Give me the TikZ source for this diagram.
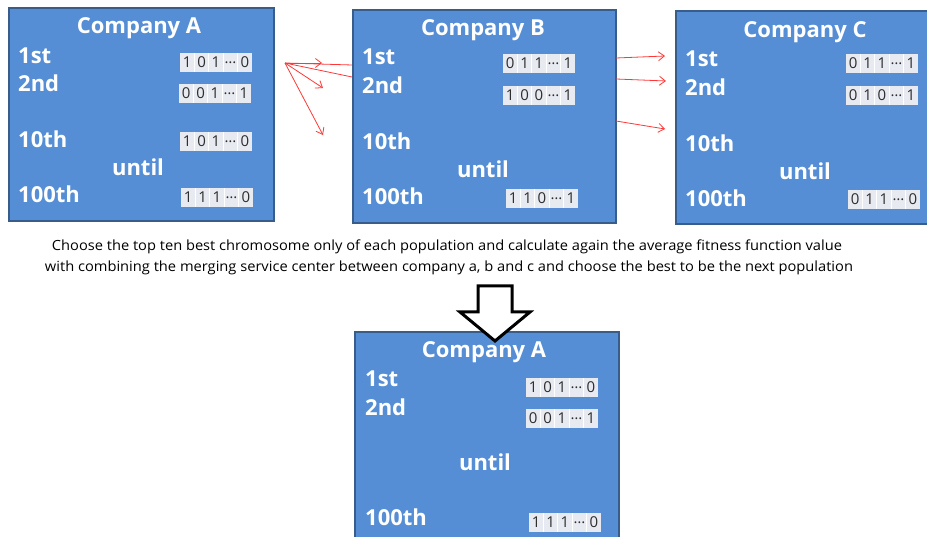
\documentclass[tikz,border=0pt]{standalone}
\usepackage{fontspec}
\setmainfont{Open Sans}
\usetikzlibrary{arrows.meta,calc}

\definecolor{boxfill}{RGB}{85,142,213}
\definecolor{boxline}{RGB}{56,93,138}
\definecolor{cellfill}{RGB}{231,234,240}
\definecolor{celltext}{RGB}{45,45,45}
\definecolor{linkred}{RGB}{255,55,55}

\tikzset{
  company/.style={draw=boxline, line width=2pt, fill=boxfill, rectangle,
    anchor=north west, inner sep=0pt},
  heading/.style={text=white, font=\bfseries\fontsize{22}{22}\selectfont, inner sep=0pt},
  rowlabel/.style={heading, anchor=west},
  chrom/.style={fill=cellfill, rectangle, anchor=north west, inner sep=0pt,
    minimum width=72pt, minimum height=19pt},
  cell/.style={text=celltext, font=\fontsize{15}{15}\selectfont, inner sep=0pt},
  link/.style={draw=linkred, line width=0.8pt},
  linkarrow/.style={link, -{Straight Barb[length=6pt,width=9pt]}},
  caption/.style={font=\fontsize{14}{14}\selectfont, inner sep=0pt, text=black},
  hollow/.style={draw=black, line width=3pt, fill=white, line join=miter},
}

% chromosome string: name, left, top, three digits and the last digit
\newcommand\chromo[7]{%
  \node[chrom] (#1) at (#2,#3) {};
  \foreach \d [count=\i] in {#4,#5,#6,…,#7}
    \node[cell] (#1-\i) at ($(#1.north west)+(7.2+14.4*\i-14.4,9.5)$) {\d};
  \foreach \k in {1,...,4}
    \draw[white, line width=1pt] ($(#1.north west)+(14.4*\k,0)$) -- ($(#1.south west)+(14.4*\k,0)$);
}

\begin{document}
\begin{tikzpicture}[x=1pt,y=-1pt]
\useasboundingbox (0,0) rectangle (927,537);

% links leaving the fan point, partly hidden under Company B
\coordinate (fan) at (285,63);
\coordinate (b1) at (352,65);
\coordinate (b2) at (352,77);
\draw[link] (fan) -- (b1);
\draw[link] (fan) -- (b2);

% three population boxes
\node[company, minimum width=265pt, minimum height=213pt] (boxA) at (8,7) {};
\node[company, minimum width=263pt, minimum height=213pt] (boxB) at (352,9) {};
\node[company, minimum width=270pt, minimum height=213pt] (boxC) at (675,10) {};

% Company A
\node[heading] (hA) at (139,28) {Company A};
\node[rowlabel] (a1) at (18,56) {1st};
\node[rowlabel] (a2) at (18,83) {2nd};
\node[rowlabel] (a10) at (18,139) {10th};
\node[heading] (auntil) at (138,167) {until};
\node[rowlabel] (a100) at (18,194) {100th};
\chromo{ca1}{180}{53}{1}{0}{1}{0}
\chromo{ca2}{179}{84}{0}{0}{1}{1}
\chromo{ca3}{180}{132}{1}{0}{1}{0}
\chromo{ca4}{181}{188}{1}{1}{1}{0}

% Company B
\node[heading] (hB) at (483,30) {Company B};
\node[rowlabel] (b1l) at (362,57) {1st};
\node[rowlabel] (b2l) at (362,85) {2nd};
\node[rowlabel] (b10) at (362,141) {10th};
\node[heading] (buntil) at (483,169) {until};
\node[rowlabel] (b100) at (362,196) {100th};
\chromo{cb1}{503}{54}{0}{1}{1}{1}
\chromo{cb2}{503}{86}{1}{0}{0}{1}
\chromo{cb4}{506}{189}{1}{1}{0}{1}

% Company C
\node[heading] (hC) at (805,32) {Company C};
\node[rowlabel] (c1) at (685,59) {1st};
\node[rowlabel] (c2) at (685,87) {2nd};
\node[rowlabel] (c10) at (685,143) {10th};
\node[heading] (cuntil) at (805,171) {until};
\node[rowlabel] (c100) at (685,198) {100th};
\chromo{cc1}{846}{54}{0}{1}{1}{1}
\chromo{cc2}{846}{86}{0}{1}{0}{1}
\chromo{cc4}{848}{190}{0}{1}{1}{0}

% fan of arrows between Company A and Company B
\coordinate (t1) at (322,63);
\coordinate (t2) at (323,88);
\coordinate (t3) at (323,135);
\draw[linkarrow] (fan) -- (t1);
\draw[linkarrow] (fan) -- (t2);
\draw[linkarrow] (fan) -- (t3);

% arrows from Company B towards Company C
\coordinate (s1) at (616,58);
\coordinate (s2) at (616,79);
\coordinate (s3) at (616,121);
\coordinate (u1) at (665,56);
\coordinate (u2) at (666,81);
\coordinate (u3) at (665,129);
\draw[linkarrow] (s1) -- (u1);
\draw[linkarrow] (s2) -- (u2);
\draw[linkarrow] (s3) -- (u3);

% explanation
\node[caption] (cap1) at (447,247) {\resizebox{790pt}{\height}{Choose the top ten best chromosome only of each population and calculate again the average fitness function value}};
\node[caption] (cap2) at (449,268) {\resizebox{808pt}{\height}{with combining the merging service center between company a, b and c and choose the best to be the next population}};

% merged population
\node[company, minimum width=264pt, minimum height=230pt] (boxM) at (354,331) {};
\node[heading] (hM) at (484,352) {Company A};
\node[rowlabel] (m1) at (365,379) {1st};
\node[rowlabel] (m2) at (365,407) {2nd};
\node[heading] (muntil) at (485,462) {until};
\node[rowlabel] (m100) at (365,517) {100th};
\chromo{cm1}{526}{378}{1}{0}{1}{0}
\chromo{cm2}{526}{409}{0}{0}{1}{1}
\chromo{cm4}{529}{513}{1}{1}{1}{0}

% hollow block arrow into the merged population
\draw[hollow] (478,286) -- (512,286) -- (512,312) -- (530,312) -- (495,341)
  -- (460,312) -- (478,312) -- cycle;
\end{tikzpicture}
\end{document}
